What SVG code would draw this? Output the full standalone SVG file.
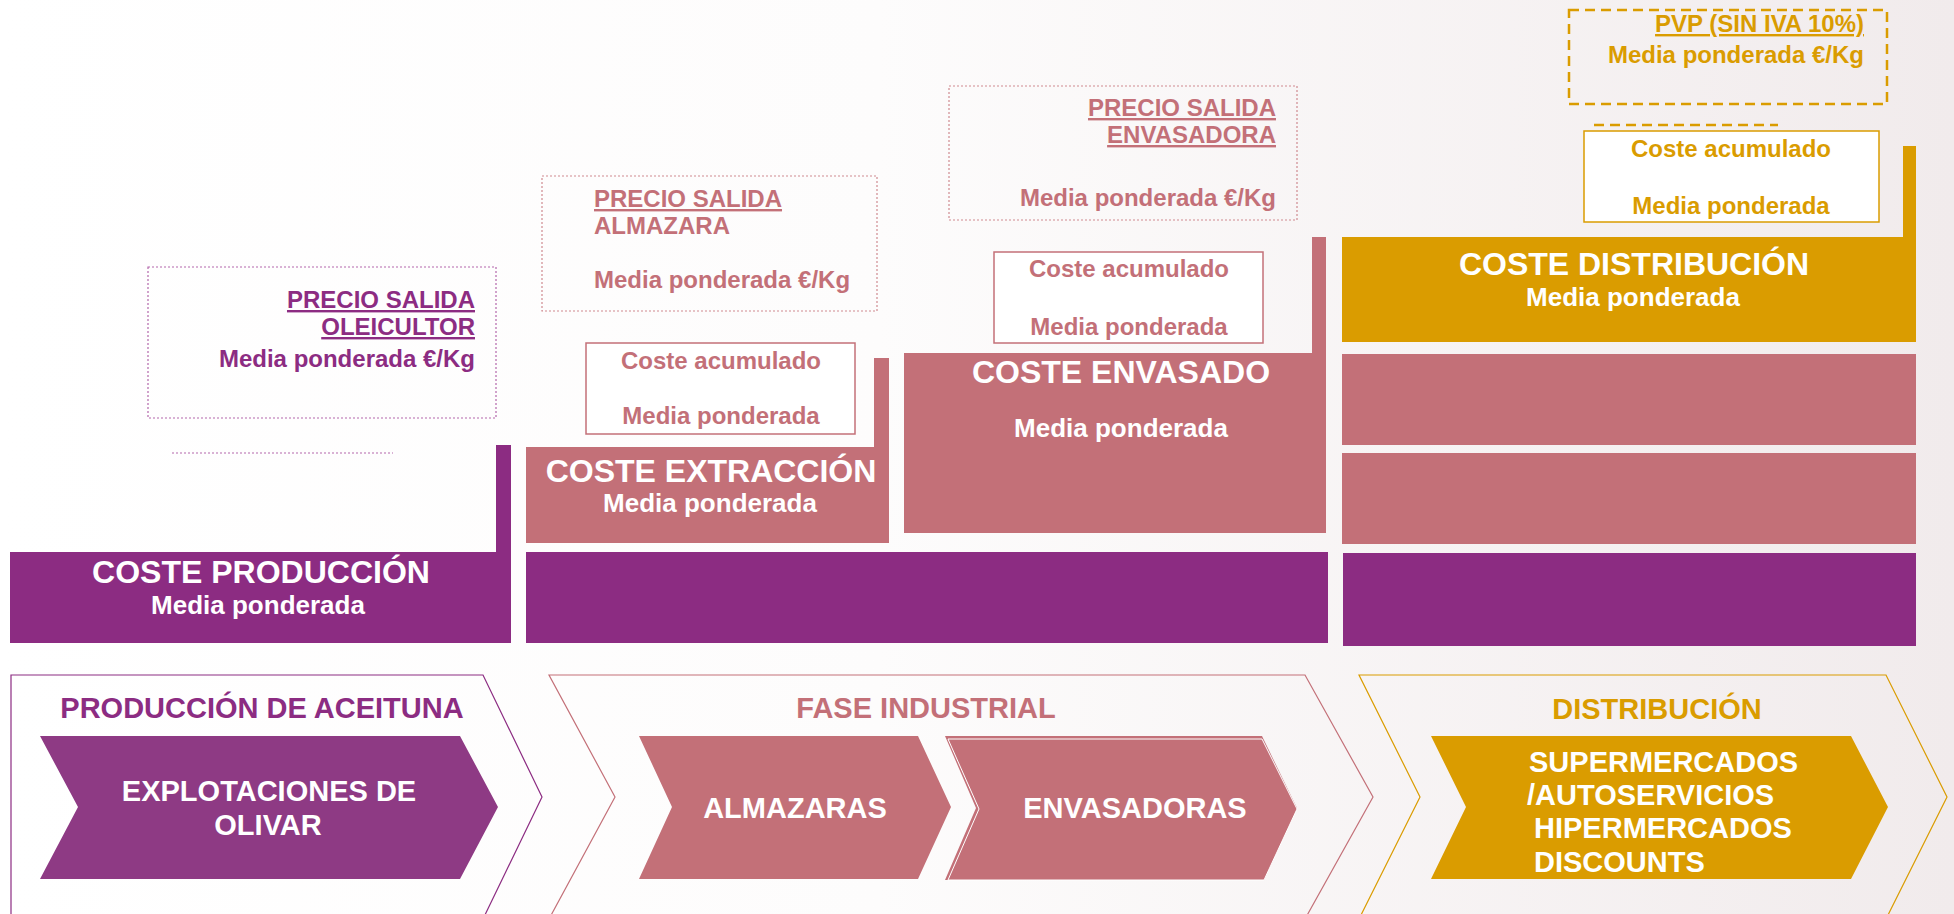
<svg xmlns="http://www.w3.org/2000/svg" width="1954" height="914" viewBox="0 0 1954 914">
<defs>
<linearGradient id="bg" x1="0" y1="0" x2="1" y2="0">
<stop offset="0" stop-color="#ffffff"/>
<stop offset="0.45" stop-color="#fdfcfc"/>
<stop offset="1" stop-color="#f1ebec"/>
</linearGradient>
<style>
text{font-family:"Liberation Sans",Arial,sans-serif;font-weight:bold}
.pu{fill:#8C2C82}.pk{fill:#C37078}.go{fill:#DA9C00}.wh{fill:#ffffff}
.f24{font-size:24px}.f26{font-size:26px}.f32{font-size:32px}.f29{font-size:29px}
.mid{text-anchor:middle}.end{text-anchor:end}
.ul{text-decoration:underline}
.dotpu{fill:none;stroke:#B366AB;stroke-width:1.2;stroke-dasharray:2 2}
.dotpk{fill:none;stroke:#CF8A90;stroke-width:1.2;stroke-dasharray:2 2}
.dashgo{fill:none;stroke:#DA9C00;stroke-width:2.5;stroke-dasharray:10 6}
.acpk{fill:#ffffff;stroke:#C37078;stroke-width:1.5}
.acgo{fill:#ffffff;stroke:#DA9C00;stroke-width:1.5}
.olpu{fill:none;stroke:#8C2C82;stroke-width:1.2}
.olpk{fill:none;stroke:#C37078;stroke-width:1.2}
.olgo{fill:none;stroke:#DA9C00;stroke-width:1.2}
</style>
</defs>
<rect x="0" y="0" width="1954" height="914" fill="url(#bg)"/>

<g id="connectors">
<line x1="172" y1="453" x2="393" y2="453" class="dotpu"/>
<line x1="1594" y1="125" x2="1778" y2="125" class="dashgo"/>
</g>

<g id="precio-oleicultor">
<rect x="148" y="267" width="348" height="151" class="dotpu"/>
<text x="475" y="308" class="pu f24 end ul">PRECIO SALIDA</text>
<text x="475" y="335" class="pu f24 end ul">OLEICULTOR</text>
<text x="475" y="367" class="pu f24 end">Media ponderada €/Kg</text>
</g>

<g id="precio-almazara">
<rect x="542" y="176" width="335" height="135" class="dotpk"/>
<text x="594" y="207" class="pk f24 ul">PRECIO SALIDA</text>
<text x="594" y="234" class="pk f24">ALMAZARA</text>
<text x="594" y="288" class="pk f24">Media ponderada €/Kg</text>
</g>

<g id="precio-envasadora">
<rect x="949" y="86" width="348" height="134" class="dotpk"/>
<text x="1276" y="116" class="pk f24 end ul">PRECIO SALIDA</text>
<text x="1276" y="143" class="pk f24 end ul">ENVASADORA</text>
<text x="1276" y="206" class="pk f24 end">Media ponderada €/Kg</text>
</g>

<g id="pvp">
<rect x="1569" y="10" width="318" height="94" class="dashgo"/>
<text x="1864" y="32" class="go f24 end ul">PVP (SIN IVA 10%)</text>
<text x="1864" y="63" class="go f24 end">Media ponderada €/Kg</text>
</g>

<g id="acumulado-almazara">
<rect x="586" y="343" width="269" height="91" class="acpk"/>
<text x="721" y="369" class="pk f24 mid">Coste acumulado</text>
<text x="721" y="424" class="pk f24 mid">Media ponderada</text>
</g>

<g id="acumulado-envasadora">
<rect x="994" y="252" width="269" height="91" class="acpk"/>
<text x="1129" y="277" class="pk f24 mid">Coste acumulado</text>
<text x="1129" y="335" class="pk f24 mid">Media ponderada</text>
</g>

<g id="acumulado-distribucion">
<rect x="1584" y="131" width="295" height="91" class="acgo"/>
<text x="1731" y="157" class="go f24 mid">Coste acumulado</text>
<text x="1731" y="214" class="go f24 mid">Media ponderada</text>
</g>

<g id="coste-produccion">
<rect x="10" y="552" width="501" height="91" class="pu"/>
<rect x="496" y="445" width="15" height="108" class="pu"/>
<text x="261" y="583" class="wh f32 mid">COSTE PRODUCCIÓN</text>
<text x="258" y="614" class="wh f26 mid">Media ponderada</text>
</g>

<g id="coste-extraccion">
<rect x="526" y="447" width="363" height="96" class="pk"/>
<rect x="874" y="358" width="15" height="90" class="pk"/>
<text x="711" y="482" class="wh f32 mid">COSTE EXTRACCIÓN</text>
<text x="710" y="512" class="wh f26 mid">Media ponderada</text>
</g>

<g id="coste-envasado">
<rect x="904" y="353" width="422" height="180" class="pk"/>
<rect x="1312" y="237" width="14" height="117" class="pk"/>
<text x="1121" y="383" class="wh f32 mid">COSTE ENVASADO</text>
<text x="1121" y="437" class="wh f26 mid">Media ponderada</text>
</g>

<g id="coste-distribucion">
<rect x="1342" y="237" width="574" height="105" class="go"/>
<rect x="1903" y="146" width="13" height="92" class="go"/>
<text x="1634" y="275" class="wh f32 mid">COSTE DISTRIBUCIÓN</text>
<text x="1633" y="306" class="wh f26 mid">Media ponderada</text>
</g>

<g id="produccion-industrial">
<rect x="526" y="552" width="802" height="91" class="pu"/>
</g>

<g id="distribucion-acumulado">
<rect x="1342" y="354" width="574" height="91" class="pk"/>
<rect x="1342" y="453" width="574" height="91" class="pk"/>
<rect x="1343" y="553" width="573" height="93" class="pu"/>
</g>

<g id="fase-produccion">
<polyline points="11,925 11,675 483,675 542,797 483,919" class="olpu"/>
<text x="262" y="718" class="pu f29 mid">PRODUCCIÓN DE ACEITUNA</text>
<polygon points="40,736 460,736 498,807 460,879 40,879 78,807" fill="#8E3A84"/>
<text x="269" y="801" class="wh f29 mid">EXPLOTACIONES DE</text>
<text x="268" y="835" class="wh f29 mid">OLIVAR</text>
</g>

<g id="fase-industrial">
<polyline points="549,919 615,797 549,675 1305,675 1373,797 1305,919" class="olpk"/>
<text x="926" y="718" class="pk f29 mid">FASE INDUSTRIAL</text>
<g id="almazaras">
<polygon points="639,736 918,736 951,807 918,879 639,879 672,807" class="pk"/>
<text x="795" y="818" class="wh f29 mid">ALMAZARAS</text>
</g>
<g id="envasadoras">
<polygon points="945,736 1262,736 1297,808 1264,880 945,880 976,808" class="pk"/>
<polygon points="948,739 1262,739 1297,809 1264,880 948,880 979,809" class="pk" stroke="#ffffff" stroke-width="1"/>
<text x="1135" y="818" class="wh f29 mid">ENVASADORAS</text>
</g>
</g>

<g id="fase-distribucion">
<polyline points="1359,919 1420,797 1359,675 1886,675 1947,797 1886,919" class="olgo"/>
<text x="1657" y="719" class="go f29 mid">DISTRIBUCIÓN</text>
<polygon points="1431,736 1851,736 1888,807 1851,879 1431,879 1466,807" class="go"/>
<text x="1529" y="772" class="wh f29">SUPERMERCADOS</text>
<text x="1527" y="805" class="wh f29">/AUTOSERVICIOS</text>
<text x="1534" y="838" class="wh f29">HIPERMERCADOS</text>
<text x="1534" y="872" class="wh f29">DISCOUNTS</text>
</g>
</svg>
